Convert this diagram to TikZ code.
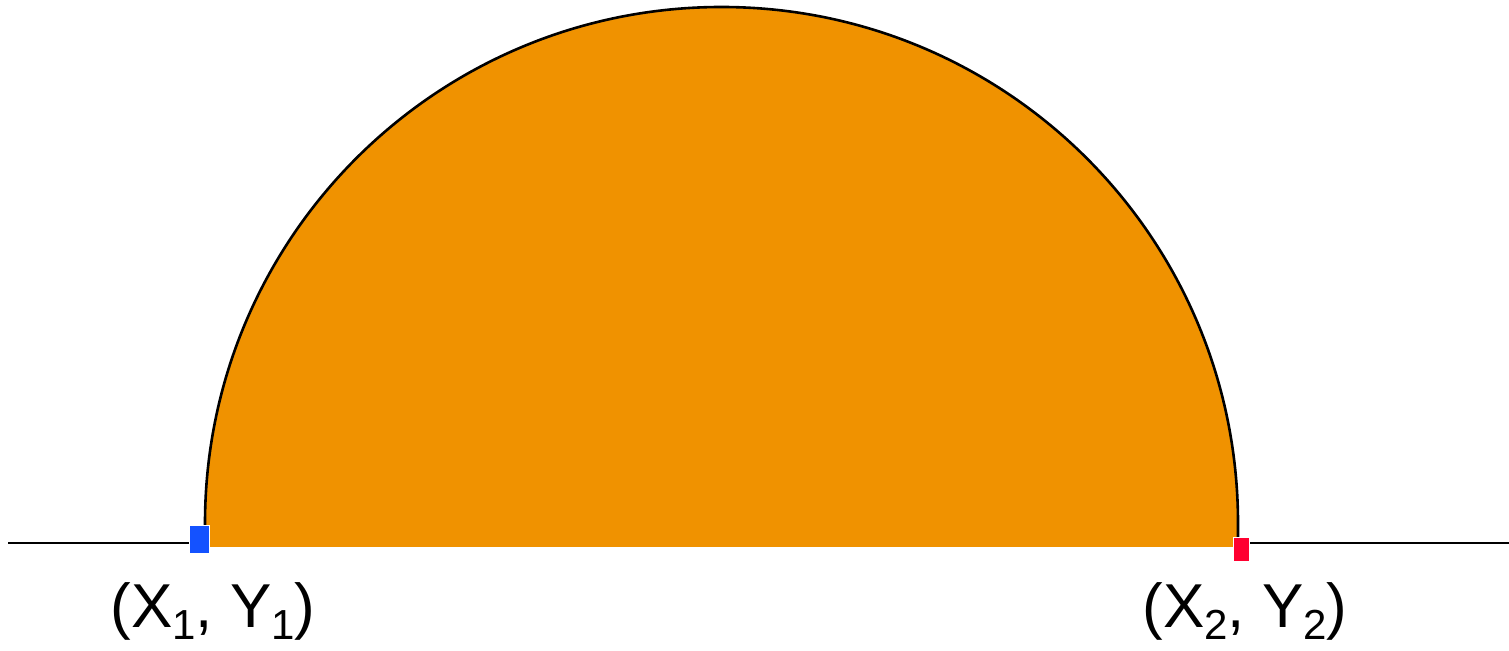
\documentclass[tikz,border=0pt]{standalone}
\usepackage{fontspec}
\setmainfont{Liberation Sans}
\usepackage{tikz}
\usetikzlibrary{positioning}
\definecolor{domeorange}{RGB}{240,146,0}
\definecolor{pointblue}{RGB}{20,82,255}
\definecolor{pointred}{RGB}{255,0,48}
\newcommand{\ptsub}[1]{\raisebox{-6pt}{\fontsize{21}{24}\selectfont #1}}

\begin{document}
\begin{tikzpicture}[
  x=0.5pt, y=-0.5pt,
  ground/.style={line width=1pt},
  outline/.style={line width=1.3pt},
  endmark/.style={draw=white, line width=0.8pt, inner sep=0pt},
  ptlabel/.style={font=\fontsize{31}{36}\selectfont, anchor=base, inner sep=0pt}
]
  \useasboundingbox (0,0) rectangle (1509,651);

  % ground line
  \coordinate (gl) at (8,543);
  \coordinate (gr) at (1509,543);
  \draw[ground] (gl) -- (gr);

  % half disk
  \fill[domeorange] (205,547) -- (205,523.5)
    arc[start angle=180, end angle=360, radius=516.5] -- (1238,547) -- cycle;
  \draw[outline] (205,547) -- (205,523.5)
    arc[start angle=180, end angle=360, radius=516.5] -- (1238,547);

  % end points
  \node[endmark, fill=pointblue, minimum width=10pt, minimum height=14pt] (p1) at (199.5,539.5) {};
  \node[endmark, fill=pointred, minimum width=8pt, minimum height=12pt] (p2) at (1241.5,549.5) {};

  \node[ptlabel] (l1) at (213,627) {(X\ptsub{1}, Y\ptsub{1})};
  \node[ptlabel] (l2) at (1245,627) {(X\ptsub{2}, Y\ptsub{2})};
\end{tikzpicture}
\end{document}
